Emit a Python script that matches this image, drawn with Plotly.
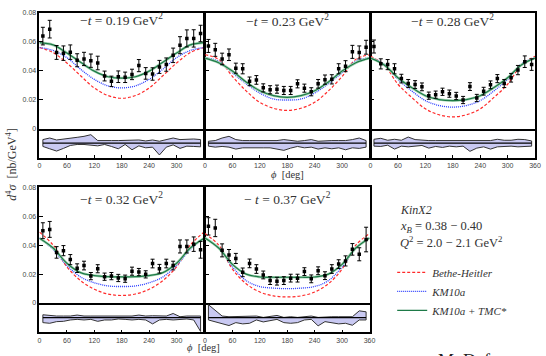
import plotly.graph_objects as go

# ---------------- data ----------------
PHI = [7.5, 22.5, 37.5, 52.5, 67.5, 82.5, 97.5, 112.5, 127.5, 142.5, 157.5, 172.5,
       187.5, 202.5, 217.5, 232.5, 247.5, 262.5, 277.5, 292.5, 307.5, 322.5, 337.5, 352.5]
CURVE_PHI = [0, 30, 60, 90, 120, 150, 180, 210, 240, 270, 300, 330, 360]

T_LABELS = ["\u2212<i>t</i> = 0.19 GeV<sup>2</sup>", "\u2212<i>t</i> = 0.23 GeV<sup>2</sup>",
            "\u2212<i>t</i> = 0.28 GeV<sup>2</sup>", "\u2212<i>t</i> = 0.32 GeV<sup>2</sup>",
            "\u2212 <i>t</i> = 0.37 GeV<sup>2</sup>"]

Y_1 = [.0639, .0687, .0526, .0521, .0528, .0472, .0481, .0469, .0453, .0363, .0326, .0358,
       .0354, .0374, .0435, .0381, .0377, .0426, .0442, .0506, .0576, .0623, .0623, .0657]
E_1 = [.0061, .0061, .0048, .0050, .0050, .0045, .0046, .0046, .0047, .0034, .0036, .0040,
       .0036, .0036, .0042, .0040, .0043, .0045, .0046, .0050, .0059, .0059, .0060, .0057]
Y_2 = [.0571, .0544, .0481, .0510, .0417, .0413, .0326, .0336, .0281, .0268, .0272, .0263,
       .0263, .0309, .0279, .0254, .0309, .0338, .0340, .0413, .0431, .0530, .0526, .0562]
E_2 = [.0045, .0045, .0040, .0040, .0035, .0035, .0030, .0030, .0028, .0028, .0028, .0028,
       .0028, .0028, .0028, .0028, .0030, .0032, .0032, .0035, .0038, .0045, .0045, .0048]
Y_3 = [.0567, .0447, .0442, .0413, .0345, .0311, .0304, .0288, .0227, .0234, .0254, .0241,
       .0225, .0197, .0290, .0211, .0258, .0302, .0345, .0311, .0351, .0404, .0462, .0442]
E_3 = [.0045, .0035, .0035, .0035, .0030, .0028, .0027, .0027, .0025, .0025, .0025, .0025,
       .0025, .0025, .0027, .0025, .0027, .0027, .0028, .0028, .0030, .0032, .0040, .0040]
Y_4 = [.0500, .0509, .0350, .0362, .0300, .0241, .0259, .0186, .0237, .0182, .0186, .0173,
       .0168, .0220, .0214, .0198, .0273, .0237, .0273, .0259, .0391, .0391, .0407, .0368]
E_4 = [.0055, .0055, .0040, .0035, .0035, .0030, .0030, .0025, .0028, .0025, .0025, .0025,
       .0025, .0028, .0025, .0025, .0030, .0030, .0030, .0030, .0045, .0045, .0050, .0058]
Y_5 = [.0530, .0519, .0364, .0332, .0308, .0212, .0274, .0235, .0194, .0155, .0151, .0155,
       .0172, .0172, .0217, .0167, .0223, .0189, .0235, .0269, .0291, .0371, .0337, .0439]
E_5 = [.0060, .0060, .0045, .0038, .0035, .0030, .0030, .0030, .0027, .0027, .0027, .0027,
       .0027, .0027, .0027, .0027, .0027, .0027, .0030, .0030, .0035, .0040, .0045, .0085]

BH_1 = [.0560, .0525, .0453, .0365, .0280, .0228, .0209, .0228, .0280, .0365, .0453, .0525, .0560]
KM_1 = [.0560, .0540, .0490, .0410, .0340, .0295, .0281, .0295, .0340, .0410, .0490, .0540, .0560]
TMC_1 = [.0594, .0578, .0522, .0458, .0397, .0358, .0349, .0358, .0397, .0458, .0522, .0578, .0594]
BH_2 = [.0510, .0478, .0360, .0260, .0181, .0140, .0125, .0140, .0181, .0260, .0360, .0478, .0510]
KM_2 = [.0490, .0465, .0385, .0310, .0245, .0204, .0197, .0204, .0245, .0310, .0385, .0465, .0490]
TMC_2 = [.0487, .0455, .0397, .0322, .0261, .0227, .0215, .0227, .0261, .0322, .0397, .0455, .0487]
BH_3 = [.0500, .0440, .0306, .0215, .0136, .0095, .0080, .0095, .0136, .0215, .0306, .0440, .0500]
KM_3 = [.0490, .0445, .0340, .0260, .0193, .0159, .0148, .0159, .0193, .0260, .0340, .0445, .0490]
TMC_3 = [.0487, .0440, .0351, .0283, .0227, .0200, .0193, .0200, .0227, .0283, .0351, .0440, .0487]
BH_4 = [.0490, .0400, .0250, .0155, .0095, .0062, .0052, .0062, .0095, .0155, .0250, .0400, .0490]
KM_4 = [.0450, .0370, .0260, .0180, .0140, .0118, .0114, .0118, .0140, .0180, .0260, .0370, .0450]
TMC_4 = [.0448, .0380, .0275, .0210, .0190, .0182, .0180, .0182, .0190, .0210, .0275, .0380, .0448]
BH_5 = [.0480, .0400, .0235, .0133, .0076, .0049, .0042, .0049, .0076, .0133, .0235, .0400, .0480]
KM_5 = [.0450, .0380, .0250, .0155, .0114, .0103, .0099, .0103, .0114, .0155, .0250, .0380, .0450]
TMC_5 = [.0450, .0380, .0267, .0200, .0180, .0178, .0178, .0178, .0180, .0200, .0267, .0380, .0450]

# residual band edges (arbitrary units)
RU_1 = [3.7, 5.3, 3.3, 4, 5, 6, 7, 8.7, 2.7, 3, 2.7, 2.7, 2.7, 3, 3.3, 2.3, 3.3, 2, 3.7, 5.3, 3.7, 4.3, 4.3, 3.7]
RL_1 = [-3.3, -5.7, -8, -5.3, -2.3, -1.3, -1.3, -1.7, -2.7, -1.3, -3.3, -5.7, -1.3, -6.7, -2.7, -4.7, -4, -12, -4, -1.7, -5.3, -3, -3.3, -3.7]
RU_2 = [2, 2.7, 5.3, 7, 3.7, 2.7, 2.7, 2.7, 2.7, 2.7, 2.7, 3.7, 2.7, 2, 2.7, 3.7, 2, 2.7, 2.7, 2.7, 2.7, 3.7, 5.3, 2.7]
RL_2 = [-3, -4, -3.3, -4, -6, -4.7, -4.7, -4.7, -4.7, -4.7, -6, -7.3, -5, -3.3, -4.7, -4, -6, -4.7, -5.7, -4.7, -6.7, -4.7, -5.3, -4]
RU_3 = [4, 5, 3, 4, 3, 6.3, 3.7, 3, 2.7, 2.7, 2.7, 2.7, 2.7, 2.7, 2.7, 2.7, 2.7, 2.7, 4, 3, 3, 4, 3.7, 2.3]
RL_3 = [-3, -3.3, -2, -6, -3, -3.7, -3.3, -2.3, -5, -3.3, -4.3, -3, -3.7, -3, -8.3, -5, -3.7, -6, -3.7, -3, -3, -3.7, -3.3, -3]
RU_4 = [3, 2.3, 1.7, 1.7, 1.7, 2.7, 1.7, 1.7, 1.7, 2, 1.7, 1.7, 2, 1.7, 2.7, 1.7, 2, 1.7, 1.7, 4.3, 1, 1.7, 1.7, 1.7]
RL_4 = [-5, -5.7, -4, -3.7, -2.3, -1.7, -2.3, -1.7, -3.7, -2.3, -2.3, -1.3, -1.7, -2.3, -1.7, -2.3, -6.3, -2.3, -1.7, -2.3, -1.7, -1.3, -2.3, -14]
RU_5 = [13.3, 7.7, 1.7, 1, 1, 1, 1, 1.7, 0.3, 1, 2.3, 0.3, 1, 0.3, 1, 1.7, 0.3, 1, 1, 1, 1, 1, 7, 6]
RL_5 = [-2.3, -4, -6.3, -8, -5, -6.3, -5.7, -2.3, -4.3, -3, -1.7, -5, -5.7, -5, -2.3, -1.7, -8.3, -4, -5, -6.3, -5.7, -7.7, -2.3, -2.3]

Y_TICKS = [0, 0.02, 0.04, 0.06, 0.08]
Y_TICKTEXT = ["0", "0.02", "0.04", "0.06", "0.08"]
X_TICKS = [0, 60, 120, 180, 240, 300, 360]

PANELS = [
    dict(y=Y_1, e=E_1, bh=BH_1, km=KM_1, tmc=TMC_1, ru=RU_1, rl=RL_1, t=T_LABELS[0]),
    dict(y=Y_2, e=E_2, bh=BH_2, km=KM_2, tmc=TMC_2, ru=RU_2, rl=RL_2, t=T_LABELS[1]),
    dict(y=Y_3, e=E_3, bh=BH_3, km=KM_3, tmc=TMC_3, ru=RU_3, rl=RL_3, t=T_LABELS[2]),
    dict(y=Y_4, e=E_4, bh=BH_4, km=KM_4, tmc=TMC_4, ru=RU_4, rl=RL_4, t=T_LABELS[3]),
    dict(y=Y_5, e=E_5, bh=BH_5, km=KM_5, tmc=TMC_5, ru=RU_5, rl=RL_5, t=T_LABELS[4]),
]

# ---------------- layout geometry (pixels) ----------------
W, H = 546, 356
COLS_PX = [(38, 205), (206, 373), (374, 541), (38, 205), (206, 373)]
ROWS_PX = [(9, 127, 157), (9, 127, 157), (9, 127, 157), (187, 305, 335), (187, 305, 335)]
TITLE_PX = [16, 17, 17, 198, 198]
LABEL_Y = [True, False, False, True, False]
LAST_X_LABEL = [False, False, True, False, True]

def fx(px):
    return px / W

def fy(py):
    return 1 - py / H

SERIF = "Liberation Serif"
SANS = "Liberation Sans"
RED = "#ff2a2a"
BLUE = "#2a3cff"
GREEN = "#1e7a48"
GREEN_BAND = "#a8d6b6"

fig = go.Figure()
layout = dict(width=W, height=H, margin=dict(l=0, r=0, t=0, b=0),
              paper_bgcolor="white", plot_bgcolor="white", showlegend=True)
annotations = []

for k, p in enumerate(PANELS):
    im = 2 * k + 1
    ir = 2 * k + 2
    xm = "x" if im == 1 else f"x{im}"
    ym = "y" if im == 1 else f"y{im}"
    xr = f"x{ir}"
    yr = f"y{ir}"
    x0, x1 = COLS_PX[k]
    ytop, ymid, ybot = ROWS_PX[k]
    xdom = [fx(x0), fx(x1)]
    ax_common = dict(showline=True, linecolor="black", linewidth=1.6,
                     showgrid=False, zeroline=False)
    layout["xaxis" if im == 1 else f"xaxis{im}"] = dict(
        domain=xdom, range=[0, 360], anchor=ym, showticklabels=False, ticks="",
        mirror=True, **ax_common)
    layout["yaxis" if im == 1 else f"yaxis{im}"] = dict(
        domain=[fy(ymid), fy(ytop)], range=[0, 0.08], anchor=xm,
        tickvals=Y_TICKS, ticktext=Y_TICKTEXT, ticks="inside", ticklen=4, tickwidth=1,
        tickcolor="black", showticklabels=LABEL_Y[k], mirror=True,
        tickfont=dict(family=SANS, size=7, color="#444"), **ax_common)
    ttext = ["0", "60", "120", "180", "240", "300", "360" if LAST_X_LABEL[k] else ""]
    layout[f"xaxis{ir}"] = dict(
        domain=xdom, range=[0, 360], anchor=yr, tickvals=X_TICKS, ticktext=ttext,
        ticks="inside", ticklen=3, tickwidth=1, tickcolor="black", mirror=False,
        tickfont=dict(family=SANS, size=7, color="#444"), **ax_common)
    layout[f"yaxis{ir}"] = dict(
        domain=[fy(ybot), fy(ymid)], range=[-15, 15], anchor=xr,
        showticklabels=False, ticks="", mirror=True, **ax_common)

    show = (k == 0)
    # theory curves
    fig.add_trace(go.Scatter(x=CURVE_PHI, y=p["bh"], mode="lines", line_shape="spline",
                             line=dict(color=RED, width=1.2, dash="3px,2px"),
                             name="<i>Bethe-Heitler</i>", showlegend=show, legendrank=1,
                             xaxis=xm, yaxis=ym))
    fig.add_trace(go.Scatter(x=CURVE_PHI, y=p["km"], mode="lines", line_shape="spline",
                             line=dict(color=BLUE, width=1.3, dash="1px,1px"),
                             name="<i>KM10a</i>", showlegend=show, legendrank=2,
                             xaxis=xm, yaxis=ym))
    fig.add_trace(go.Scatter(x=CURVE_PHI, y=p["tmc"], mode="lines", line_shape="spline",
                             line=dict(color=GREEN_BAND, width=2.6),
                             showlegend=False, hoverinfo="skip", xaxis=xm, yaxis=ym))
    fig.add_trace(go.Scatter(x=CURVE_PHI, y=p["tmc"], mode="lines", line_shape="spline",
                             line=dict(color=GREEN, width=1.2),
                             name="<i>KM10a + TMC*</i>", showlegend=show, legendrank=3,
                             xaxis=xm, yaxis=ym))
    # data
    fig.add_trace(go.Scatter(x=PHI, y=p["y"], mode="markers",
                             marker=dict(symbol="square", size=3.5, color="black"),
                             error_y=dict(type="data", array=p["e"], color="black",
                                          thickness=1, width=2),
                             showlegend=False, xaxis=xm, yaxis=ym))
    # residual band
    bx = PHI + PHI[::-1] + [PHI[0]]
    by = p["ru"] + p["rl"][::-1] + [p["ru"][0]]
    fig.add_trace(go.Scatter(x=bx, y=by, mode="lines", fill="toself",
                             fillcolor="#c9c9f2", line=dict(color="#333", width=1),
                             showlegend=False, hoverinfo="skip", xaxis=xr, yaxis=yr))
    fig.add_trace(go.Scatter(x=[PHI[0], PHI[-1]], y=[0, 0], mode="lines",
                             line=dict(color="black", width=1.3),
                             showlegend=False, hoverinfo="skip", xaxis=xr, yaxis=yr))

    annotations.append(dict(text=p["t"], xref="paper", yref="paper",
                            x=fx((x0 + x1) / 2), y=fy(TITLE_PX[k]), xanchor="center",
                            yanchor="middle", showarrow=False,
                            font=dict(family=SERIF, size=13.5, color="#333")))

# axis titles & side text
annotations += [
    dict(text="<i>\u03d5</i>  [deg]", xref="paper", yref="paper", x=fx(290), y=fy(174),
         xanchor="center", yanchor="middle", showarrow=False,
         font=dict(family=SERIF, size=10.5, color="#333")),
    dict(text="<i>\u03d5</i>  [deg]", xref="paper", yref="paper", x=fx(205), y=fy(350),
         xanchor="center", yanchor="middle", showarrow=False,
         font=dict(family=SERIF, size=10.5, color="#333")),
    dict(text="<i>d</i><sup>4</sup><i>\u03c3</i>  [nb/GeV<sup>4</sup>]", xref="paper", yref="paper",
         x=fx(10), y=fy(164), xanchor="center", yanchor="middle", textangle=-90, showarrow=False,
         font=dict(family=SERIF, size=12, color="#333")),
    dict(text="<i>KinX2</i>", xref="paper", yref="paper", x=fx(402), y=fy(210),
         xanchor="left", yanchor="middle", showarrow=False,
         font=dict(family=SERIF, size=12, color="#333")),
    dict(text="<i>x</i><sub><i>B</i></sub> = 0.38 \u2212 0.40", xref="paper", yref="paper",
         x=fx(402), y=fy(227), xanchor="left", yanchor="middle", showarrow=False,
         font=dict(family=SERIF, size=12.5, color="#333")),
    dict(text="<i>Q</i><sup>2</sup> = 2.0 \u2212 2.1 GeV<sup>2</sup>", xref="paper", yref="paper",
         x=fx(402), y=fy(243), xanchor="left", yanchor="middle", showarrow=False,
         font=dict(family=SERIF, size=12.5, color="#333")),
    dict(text="M. Defurne et al.", xref="paper", yref="paper", x=fx(440), y=fy(352),
         xanchor="left", yanchor="top", showarrow=False,
         font=dict(family=SERIF, size=18, color="#222")),
]

layout["annotations"] = annotations
layout["legend"] = dict(x=fx(396), y=fy(259), xanchor="left", yanchor="top",
                        bgcolor="rgba(0,0,0,0)", itemwidth=30, tracegroupgap=0,
                        font=dict(family=SERIF, size=11, color="#333"))
fig.update_layout(**layout)
fig.write_html("out.html", config={"displayModeBar": False},
               post_script="document.body.style.margin='0px';document.body.style.overflow='hidden';")
